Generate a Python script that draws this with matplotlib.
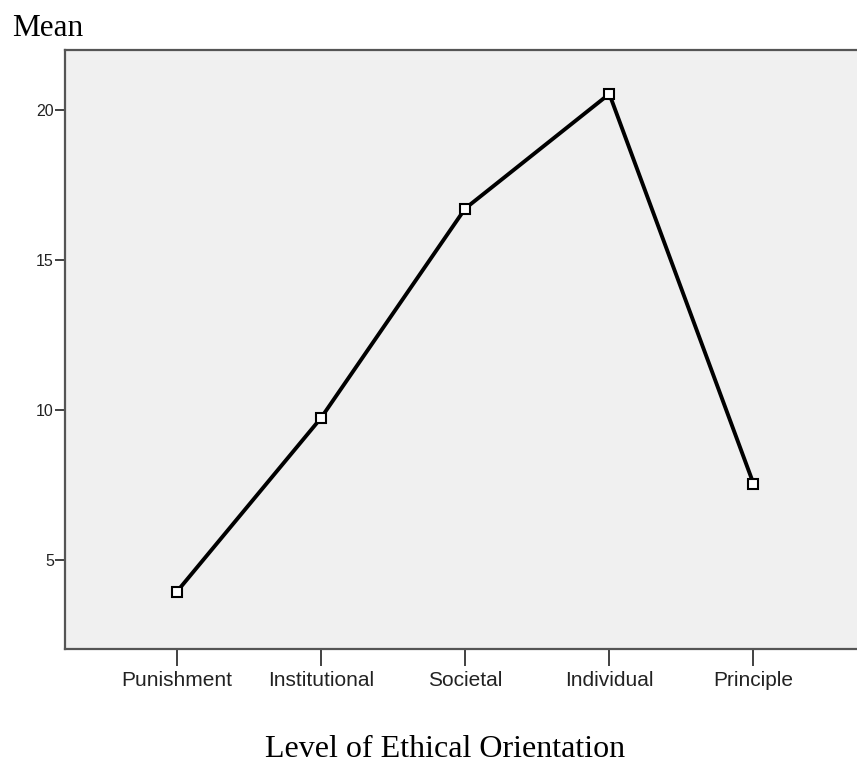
import matplotlib
matplotlib.use("Agg")
import matplotlib.pyplot as plt

# Mean score per level of ethical orientation
levels = ["Punishment", "Institutional", "Societal", "Individual", "Principle"]
means = [3.93, 9.72, 16.70, 20.52, 7.53]
y_ticks = [5, 10, 15, 20]

W, H = 857, 770
fig = plt.figure(figsize=(W / 100, H / 100), dpi=100)
left, right, top, bottom = 65, 858, 49.5, 649
ax = fig.add_axes([left / W, (H - bottom) / H, (right - left) / W, (bottom - top) / H])
ax.set_facecolor("#f0f0f0")

x = list(range(len(levels)))
ax.plot(x, means, color="black", linewidth=2.8, marker="s", markersize=6.5,
        markerfacecolor="white", markeredgecolor="black", markeredgewidth=1.5,
        solid_joinstyle="round", zorder=3)

ax.set_xlim(-0.776, 4.725)
ax.set_ylim(2.02, 22.0)
ax.set_xticks(x)
ax.set_xticklabels(levels, fontsize=15, family="Liberation Sans", color="#222222")
ax.set_yticks(y_ticks)
ax.set_yticklabels([str(v) for v in y_ticks], fontsize=11.5, family="Liberation Sans",
                   color="#222222")
ax.tick_params(axis="x", length=12, width=1.3, color="#333333", pad=4)
ax.tick_params(axis="y", length=7, width=1.3, color="#333333", pad=1)

for side in ("top", "left", "bottom"):
    ax.spines[side].set_color("#555555")
    ax.spines[side].set_linewidth(1.6)
ax.spines["right"].set_visible(False)

fig.text(12 / W, 1 - 36 / H, "Mean", family="Liberation Serif", fontsize=22.5,
         ha="left", va="baseline")
fig.text(445 / W, 1 - 757 / H, "Level of Ethical Orientation", family="Liberation Serif",
         fontsize=23, ha="center", va="baseline")

fig.savefig("out.png", dpi=100)
